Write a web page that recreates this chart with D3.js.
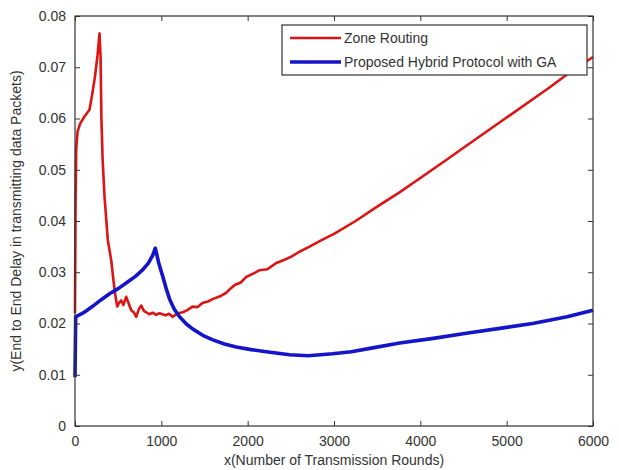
<!DOCTYPE html>
<html>
<head>
<meta charset="utf-8">
<script src="https://cdn.jsdelivr.net/npm/d3@7"></script>
<style>
    body { margin: 0; background: #fff; }
    svg { display: block; font-family: "Liberation Sans", Arial, sans-serif; }
    .tick text { fill: #333; font-size: 14px; }
</style>
</head>
<body>
<svg id="chart" width="619" height="470"></svg>
<script>
// values: [rounds, delay]
const zoneRouting = [
    [0, 0.022], [6, 0.043], [14, 0.054], [30, 0.0575], [60, 0.0590], [110, 0.0604],
    [168, 0.0617], [200, 0.0648], [230, 0.0680], [260, 0.0722], [284, 0.0766],
    [296, 0.0720], [306, 0.0600], [320, 0.0520], [342, 0.0447], [380, 0.0363],
    [419, 0.0324], [458, 0.0265], [489, 0.0233], [510, 0.0240], [535, 0.0245],
    [560, 0.0236], [593, 0.0252], [620, 0.0240], [651, 0.0226], [680, 0.0222],
    [709, 0.0213], [740, 0.0228], [767, 0.0235], [800, 0.0224], [825, 0.0222],
    [860, 0.0218], [900, 0.0221], [940, 0.0217], [979, 0.0220], [1050, 0.0216],
    [1090, 0.0219], [1130, 0.0213], [1190, 0.0220], [1250, 0.0222], [1300, 0.0226],
    [1361, 0.0233], [1420, 0.0232], [1477, 0.0240], [1540, 0.0243], [1600, 0.0248],
    [1680, 0.0253], [1752, 0.0260], [1800, 0.0268], [1850, 0.0275], [1920, 0.0280],
    [1984, 0.0291], [2060, 0.0297], [2138, 0.0304], [2230, 0.0306], [2331, 0.0318],
    [2420, 0.0324], [2500, 0.0330], [2600, 0.0340], [2717, 0.0350], [2850, 0.0362],
    [3000, 0.0375], [3250, 0.0400], [3500, 0.0428], [3750, 0.0455], [4000, 0.0484],
    [4300, 0.0519], [4500, 0.0543], [5000, 0.0602], [5500, 0.0661], [5690, 0.0685],
    [6000, 0.0720]
];

const hybridGA = [
    [0, 0.0095], [8, 0.0213], [52, 0.0217], [100, 0.0221], [200, 0.0233],
    [300, 0.0246], [400, 0.0258], [500, 0.0268], [593, 0.0279], [700, 0.0292],
    [786, 0.0305], [850, 0.0318], [900, 0.0333], [930, 0.0347], [970, 0.0318],
    [1018, 0.0291], [1060, 0.0266], [1095, 0.0248], [1150, 0.0228], [1211, 0.0213],
    [1290, 0.0199], [1366, 0.0189], [1480, 0.0177], [1597, 0.0168], [1730, 0.0160],
    [1868, 0.0154], [2040, 0.0149], [2215, 0.0145], [2486, 0.0139], [2700, 0.0137],
    [2984, 0.0141], [3200, 0.0145], [3400, 0.0151], [3761, 0.0162], [4150, 0.0171],
    [4533, 0.0181], [4900, 0.0190], [5301, 0.0200], [5700, 0.0213], [6000, 0.0226]
];

const seriesNames = ["Zone Routing", "Proposed Hybrid Protocol with GA"];
const xTicks = [0, 1000, 2000, 3000, 4000, 5000, 6000];
const yTicks = [0, 0.01, 0.02, 0.03, 0.04, 0.05, 0.06, 0.07, 0.08];

const svg = d3.select("#chart");
const margin = {top: 16, right: 26, bottom: 44, left: 75};
const width = 619 - margin.left - margin.right;
const height = 470 - margin.top - margin.bottom;

const x = d3.scaleLinear().domain([0, 6000]).range([0, width]);
const y = d3.scaleLinear().domain([0, 0.08]).range([height, 0]);

const g = svg.append("g")
    .attr("transform", "translate(" + margin.left + "," + margin.top + ")");

const line = d3.line()
    .x(d => x(d[0]))
    .y(d => y(d[1]));

g.append("path")
    .datum(zoneRouting)
    .attr("fill", "none")
    .attr("stroke", "#dd1414")
    .attr("stroke-width", 2.6)
    .attr("stroke-linejoin", "round")
    .attr("d", line);

g.append("path")
    .datum(hybridGA)
    .attr("fill", "none")
    .attr("stroke", "#1414c8")
    .attr("stroke-width", 3.6)
    .attr("stroke-linejoin", "round")
    .attr("d", line);

// matlab style box with inward ticks on every side
const tickLen = 5;
const axisColor = "#333";

function styleAxis(sel) {
    sel.select(".domain").remove();
    sel.selectAll(".tick line").attr("stroke", axisColor);
}

g.append("g")
    .attr("transform", "translate(0," + height + ")")
    .call(d3.axisBottom(x).tickValues(xTicks).tickFormat(d3.format("d"))
        .tickSizeInner(-tickLen).tickPadding(10))
    .call(styleAxis);

g.append("g")
    .call(d3.axisTop(x).tickValues(xTicks).tickSizeInner(-tickLen).tickFormat(""))
    .call(styleAxis);

g.append("g")
    .call(d3.axisLeft(y).tickValues(yTicks).tickFormat(d => d === 0 ? "0" : d3.format(".2f")(d))
        .tickSizeInner(-tickLen).tickPadding(9))
    .call(styleAxis);

g.append("g")
    .attr("transform", "translate(" + width + ",0)")
    .call(d3.axisRight(y).tickValues(yTicks).tickSizeInner(-tickLen).tickFormat(""))
    .call(styleAxis);

g.append("rect")
    .attr("width", width)
    .attr("height", height)
    .attr("fill", "none")
    .attr("stroke", axisColor)
    .attr("stroke-width", 1.2);

// axis titles
svg.append("text")
    .attr("x", margin.left + width / 2)
    .attr("y", 465)
    .attr("text-anchor", "middle")
    .attr("font-size", 14)
    .attr("fill", "#333")
    .text("x(Number of Transmission Rounds)");

svg.append("text")
    .attr("transform", "translate(21," + (margin.top + height / 2) + ") rotate(-90)")
    .attr("text-anchor", "middle")
    .attr("font-size", 14)
    .attr("fill", "#333")
    .text("y(End to End Delay in transmitting data Packets)");

// legend
const legend = svg.append("g").attr("transform", "translate(282,25)");
legend.append("rect")
    .attr("width", 305)
    .attr("height", 50)
    .attr("fill", "#fff")
    .attr("stroke", axisColor)
    .attr("stroke-width", 1.2);

const legendColors = ["#dd1414", "#1414c8"];
const legendWidths = [2.6, 3.6];
seriesNames.forEach((name, i) => {
    const row = legend.append("g").attr("transform", "translate(0," + (13 + i * 24) + ")");
    row.append("line")
        .attr("x1", 8).attr("x2", 59)
        .attr("stroke", legendColors[i])
        .attr("stroke-width", legendWidths[i]);
    row.append("text")
        .attr("x", 62)
        .attr("dy", "0.35em")
        .attr("font-size", 14)
        .attr("fill", "#333")
        .text(name);
});
</script>
</body>
</html>
